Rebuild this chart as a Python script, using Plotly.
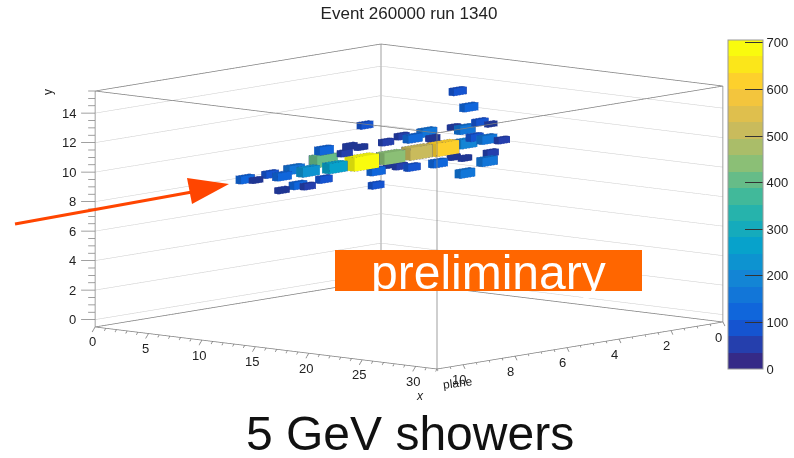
import numpy as np
import plotly.graph_objects as go

# Hits: bin centres and content
hit_x = [10.3,11.2,10.0,11.3,9.65,11.05,11.2,8.3,11.0,10.93,10.69,10.78,10.38,
         11.05,10.27,11.13,9.71,9.88,9.64,9.54,10.51,10.59,9.49,10.41,10.49,12.57,11.5,
         9.87,11.97,9.96,10.87,10.59,8.72,9.49,10.73,9.52,11.8,9.33,10.57,11.98,13.2,13.23,12.24,13.72,15.01,16.14,8.67]
hit_plane = [9.46,9.41,8.38,8.45,7.31,7.35,6.38,5.63,5.26,4.12,3.01,2.05,1.0,
             8.35,7.41,7.39,6.19,4.25,4.15,3.19,3.13,2.16,1.1,1.05,1.08,1.09,0.5,
             6.25,6.31,5.29,5.24,4.16,4.2,3.1,3.19,2.15,2.86,1.03,1.12,1.12,1.2,2.06,2.08,2.03,2.1,1.98,3.22]
hit_y = [10,10,10,10,10,10,10,10,10,10,10,10,10,
         9,9,9,9,9,8,9,9,9,9,9,8,9,9.3,
         11,11,11,11,11,12,11,11,11,11,11,11,11.6,11.6,13,14,11,11,11,9]
hit_value = [120,50,90,130,170,230,280,420,700,430,520,600,210,
             60,110,70,90,120,80,70,90,130,50,50,150,170,70,
             130,70,60,50,70,80,70,140,150,60,50,170,90,40,120,100,100,160,70,50]

x_ticks = [0,5,10,15,20,25,30]
plane_ticks = [0,2,4,6,8,10]
y_ticks = [0,2,4,6,8,10,12,14]
z_ticks = [0,100,200,300,400,500,600,700]
palette = ["#352a87","#253fad","#1554d0","#1066db","#1276d8","#1385d5","#0d93d0","#07a2cb",
           "#15abbc","#26b3ac","#41b99a","#66bc88","#8bbf76","#aabd69","#c9bb5c","#dfbf4d",
           "#f3c53d","#fdd02c","#fbe61a","#f9fb0e"]

X_MAX, PLANE_MAX, Y_MIN, Y_MAX, Z_MAX = 32, 11, -0.5, 15.5, 706
GREY = "#808080"
TXT = "#222222"
FONT = "Liberation Sans"

colorscale = []
for i, c in enumerate(palette):
    colorscale += [[i/20, c], [(i+1)/20, c]]

vx, vy, vz, vi, ti, tj, tk = [], [], [], [], [], [], []
ex, ey, ez = [], [], []
corners = [(-1,-1,-1),(1,-1,-1),(1,1,-1),(-1,1,-1),(-1,-1,1),(1,-1,1),(1,1,1),(-1,1,1)]
tris = [(0,1,2),(0,2,3),(4,5,6),(4,6,7),(0,1,5),(0,5,4),(1,2,6),(1,6,5),(2,3,7),(2,7,6),(3,0,4),(3,4,7)]
edges = [(0,1),(1,2),(2,3),(3,0),(4,5),(5,6),(6,7),(7,4),(0,4),(1,5),(2,6),(3,7)]
for cx, cp, cy, v in zip(hit_x, hit_plane, hit_y, hit_value):
    h = 0.47*(v/700)**(1/3)
    n = len(vx)
    pts = [(cx+a*h, cp+b*h, cy+c*h) for a,b,c in corners]
    for p in pts:
        vx.append(p[0]); vy.append(p[1]); vz.append(p[2]); vi.append(v)
    for a,b,c in tris:
        ti.append(n+a); tj.append(n+b); tk.append(n+c)
    for a,b in edges:
        ex += [pts[a][0],pts[b][0],None]; ey += [pts[a][1],pts[b][1],None]; ez += [pts[a][2],pts[b][2],None]

fig = go.Figure()
fig.add_trace(go.Mesh3d(
    x=vx, y=vy, z=vz, i=ti, j=tj, k=tk, intensity=vi, cmin=0, cmax=Z_MAX,
    colorscale=colorscale, flatshading=True, hoverinfo="skip",
    lighting=dict(ambient=0.85, diffuse=0.25, specular=0, roughness=1, fresnel=0),
    lightposition=dict(x=1000, y=-600, z=3000),
    colorbar=dict(x=728/794, xanchor="left", y=(458-369)/458, yanchor="bottom",
                  lenmode="pixels", len=329, thicknessmode="pixels", thickness=35,
                  xpad=0, ypad=0, outlinewidth=1, outlinecolor="#999999",
                  tickvals=z_ticks, ticks="inside", ticklen=18, tickcolor="#333333",
                  tickfont=dict(family=FONT, size=13, color=TXT)),
))
fig.add_trace(go.Scatter3d(x=ex, y=ey, z=ez, mode="lines", hoverinfo="skip", showlegend=False,
                           line=dict(color="rgba(20,20,60,0.45)", width=1)))

# frame
fx, fy, fz = [], [], []
def seg(a, b, L=(fx, fy, fz)):
    for arr, p, q in zip(L, a, b):
        arr += [p, q, None]
for p in (0, PLANE_MAX):
    for xx in (0, X_MAX):
        seg((xx,p,Y_MIN),(xx,p,Y_MAX))
for zz in (Y_MIN, Y_MAX):
    for p in (0, PLANE_MAX):
        seg((0,p,zz),(X_MAX,p,zz))
    for xx in (0, X_MAX):
        seg((xx,0,zz),(xx,PLANE_MAX,zz))
# axis ticks
for t in np.arange(0, 15.51, 0.5):
    s = 1.0 if abs(t % 2) < 1e-6 else 0.5
    seg((0,PLANE_MAX,t),(-0.75*s,PLANE_MAX+0.23*s,t))
for t in np.arange(0, 32.01, 1):
    s = 1.0 if t % 5 == 0 else 0.5
    seg((t,PLANE_MAX,Y_MIN),(t-0.28*s,PLANE_MAX,Y_MIN-0.37*s))
for t in np.arange(0, 11.01, 0.5):
    s = 1.0 if t % 2 == 0 else 0.5
    seg((X_MAX,t,Y_MIN),(X_MAX,t-0.08*s,Y_MIN-0.3*s))
fig.add_trace(go.Scatter3d(x=fx, y=fy, z=fz, mode="lines", hoverinfo="skip", showlegend=False,
                           line=dict(color=GREY, width=1.5)))
# back-wall grid at the major y ticks
gx, gy, gz = [], [], []
for t in y_ticks:
    gx += [0, 0, X_MAX, None]; gy += [PLANE_MAX, 0, 0, None]; gz += [t, t, t, None]
fig.add_trace(go.Scatter3d(x=gx, y=gy, z=gz, mode="lines", hoverinfo="skip", showlegend=False,
                           line=dict(color="#cccccc", width=1)))

label_font = dict(family=FONT, size=13, color=TXT)
scene_notes = (
    [dict(x=t, y=PLANE_MAX, z=Y_MIN, text=str(t), xshift=-3, yshift=-15, xanchor="center") for t in x_ticks]
    + [dict(x=X_MAX, y=t, z=Y_MIN, text=str(t), xshift=-4, yshift=-15, xanchor="center") for t in plane_ticks]
    + [dict(x=0, y=PLANE_MAX, z=t, text=str(t), xshift=-17, yshift=0, xanchor="right") for t in y_ticks]
)
for n in scene_notes:
    n.update(showarrow=False, yanchor="middle", font=label_font)

common = dict(showbackground=False, showspikes=False, zeroline=False, showline=False, ticks="", title="",
              showticklabels=False, autorange=False, showgrid=False)
phi, el = np.radians(-49.15), np.radians(8.17)
r = 10
k = 1.2988

def note(text, px, py, size=12, angle=0, color=TXT):
    return dict(text=text, xref="paper", yref="paper", x=px/794, y=1-py/458, showarrow=False,
                xanchor="center", yanchor="middle", textangle=angle,
                font=dict(family=FONT, size=size, color=color))

fig.update_layout(
    width=794, height=458, margin=dict(l=0, r=0, t=0, b=0, autoexpand=False),
    paper_bgcolor="white", showlegend=False,
    title=dict(text="Event 260000 run 1340", x=409/794, xanchor="center", y=1-13/458, yanchor="middle",
               font=dict(family=FONT, size=17, color=TXT)),
    scene=dict(
        domain=dict(x=[24/794,1], y=[1-413/458,1]),
        aspectmode="manual", aspectratio=dict(x=1.896*k, y=2.074*k, z=k),
        camera=dict(projection=dict(type="orthographic"), up=dict(x=0,y=0,z=1), center=dict(x=0,y=0,z=0),
                    eye=dict(x=r*np.cos(phi)*np.cos(el), y=r*np.sin(phi)*np.cos(el), z=r*np.sin(el))),
        xaxis=dict(range=[-2,34], tickvals=x_ticks, **common),
        yaxis=dict(range=[12.5,-1.5], tickvals=plane_ticks, **common),
        zaxis=dict(range=[-1.5,16.5], tickvals=y_ticks, **common),
        annotations=scene_notes,
    ),
    shapes=[
        dict(type="rect", xref="paper", yref="paper", x0=335/794, x1=642/794, y0=1-291/458, y1=1-250/458,
             fillcolor="#ff6600", line_width=0),
        dict(type="line", xref="paper", yref="paper", x0=15/794, y0=1-224/458, x1=192/794, y1=1-192/458,
             line=dict(color="#ff4500", width=3)),
        dict(type="path", xref="paper", yref="paper", fillcolor="#ff4500", line_width=0,
             path=f"M {187/794} {1-178/458} L {229/794} {1-184/458} L {192/794} {1-204/458} Z"),
    ],
    annotations=[
        note("preliminary", 489, 272, size=48, color="white"),
        note("5 GeV showers", 410, 433, size=48, color="#111111"),
        note("y", 48, 92, angle=-90),
        note("<i>x</i>", 420, 396),
        note("plane", 458, 383, angle=-7),
    ],
)
fig.write_html("out.html", config={"displayModeBar": False},
               post_script="document.body.style.margin='0';document.body.style.overflow='hidden';")
